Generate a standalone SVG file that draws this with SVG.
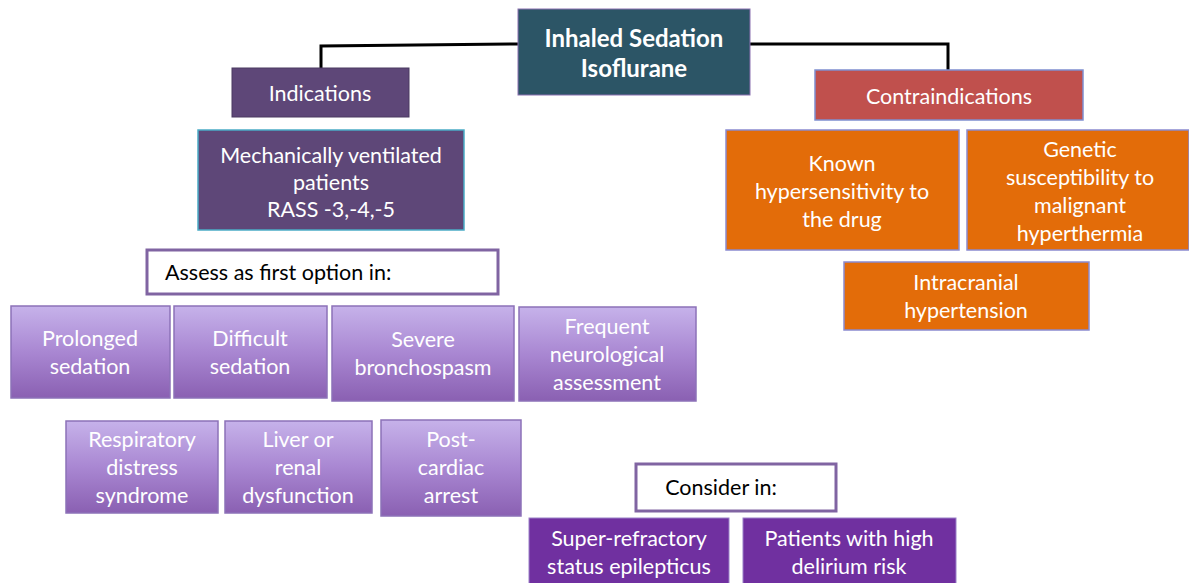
<svg xmlns="http://www.w3.org/2000/svg" width="1189" height="583" viewBox="0 0 1189 583">
<defs>
<linearGradient id="lav" x1="0" y1="0" x2="0" y2="1">
<stop offset="0" stop-color="#c6b2ea"/>
<stop offset="0.5" stop-color="#a987d2"/>
<stop offset="1" stop-color="#8a60b2"/>
</linearGradient>
</defs>
<style>
text{font-family:Lato,"Open Sans","Liberation Sans",sans-serif;text-anchor:middle;font-size:21.5px;fill:#fff}
text.title{font-size:24px;font-weight:bold}
.dark{fill:#000}
.left{text-anchor:start}
.lav{fill:url(#lav);stroke:#8c72b8;stroke-width:1.5}
.org{fill:#e36c09;stroke:#8a8ad0;stroke-width:1.5}
.wht{fill:#fff;stroke:#8064a2;stroke-width:3}
.vio{fill:#7030a0;stroke:#9a80c8;stroke-width:1}
.conn{fill:none;stroke:#000;stroke-width:3}
</style>
<rect width="1189" height="583" fill="#fff"/>
<g id="connectors">
<polyline class="conn" points="518,44 321,46 321,68"/>
<polyline class="conn" points="750,44 948,44 948,70"/>
</g>
<g id="root">
<rect x="518" y="9" width="232" height="86" fill="#2c5566" stroke="#8a70b0" stroke-width="1"/>
<text x="634" y="47" class="title">Inhaled Sedation</text>
<text x="634" y="77" class="title">Isoflurane</text>
</g>
<g id="indications">
<rect x="232" y="68" width="177" height="49" fill="#5e4778" stroke="#4a3a60" stroke-width="1"/>
<text x="320" y="101">Indications</text>
</g>
<g id="mechanical">
<rect x="198" y="130" width="266" height="100" fill="#5e4778" stroke="#4bacc6" stroke-width="1.5"/>
<text x="331" y="163">Mechanically ventilated</text>
<text x="331" y="190">patients</text>
<text x="331" y="217">RASS -3,-4,-5</text>
</g>
<g id="assess">
<rect x="147" y="250" width="351" height="44" class="wht"/>
<text x="165" y="280" class="dark left">Assess as first option in:</text>
</g>
<g id="prolonged">
<rect x="11" y="306" width="159" height="92" class="lav"/>
<text x="90" y="346">Prolonged</text>
<text x="90" y="374">sedation</text>
</g>
<g id="difficult">
<rect x="174" y="306" width="153" height="92" class="lav"/>
<text x="250" y="346">Difficult</text>
<text x="250" y="374">sedation</text>
</g>
<g id="bronchospasm">
<rect x="332" y="306" width="182" height="95" class="lav"/>
<text x="423" y="347">Severe</text>
<text x="423" y="375">bronchospasm</text>
</g>
<g id="neuro">
<rect x="519" y="307" width="177" height="94" class="lav"/>
<text x="607" y="334">Frequent</text>
<text x="607" y="362">neurological</text>
<text x="607" y="390">assessment</text>
</g>
<g id="respiratory">
<rect x="66" y="421" width="152" height="92" class="lav"/>
<text x="142" y="447">Respiratory</text>
<text x="142" y="475">distress</text>
<text x="142" y="503">syndrome</text>
</g>
<g id="liver">
<rect x="225" y="421" width="147" height="92" class="lav"/>
<text x="298" y="447">Liver or</text>
<text x="298" y="475">renal</text>
<text x="298" y="503">dysfunction</text>
</g>
<g id="postcardiac">
<rect x="381" y="420" width="140" height="96" class="lav"/>
<text x="451" y="447">Post-</text>
<text x="451" y="475">cardiac</text>
<text x="451" y="503">arrest</text>
</g>
<g id="contraindications">
<rect x="815" y="70" width="268" height="50" fill="#c0504d" stroke="#7f8fd0" stroke-width="1.5"/>
<text x="949" y="104">Contraindications</text>
</g>
<g id="hypersensitivity">
<rect x="726" y="130" width="233" height="120" class="org"/>
<text x="842" y="171">Known</text>
<text x="842" y="199">hypersensitivity to</text>
<text x="842" y="227">the drug</text>
</g>
<g id="genetic">
<rect x="967" y="130" width="222" height="120" class="org"/>
<text x="1080" y="157">Genetic</text>
<text x="1080" y="185">susceptibility to</text>
<text x="1080" y="213">malignant</text>
<text x="1080" y="241">hyperthermia</text>
</g>
<g id="intracranial">
<rect x="844" y="262" width="245" height="68" class="org"/>
<text x="966" y="290">Intracranial</text>
<text x="966" y="318">hypertension</text>
</g>
<g id="consider">
<rect x="636" y="464" width="200" height="47" class="wht"/>
<text x="721" y="495" class="dark">Consider in:</text>
</g>
<g id="epilepticus">
<rect x="529" y="518" width="200" height="66" class="vio"/>
<text x="629" y="546">Super-refractory</text>
<text x="629" y="574">status epilepticus</text>
</g>
<g id="delirium">
<rect x="743" y="518" width="213" height="66" class="vio"/>
<text x="849" y="546">Patients with high</text>
<text x="849" y="574">delirium risk</text>
</g>
</svg>
